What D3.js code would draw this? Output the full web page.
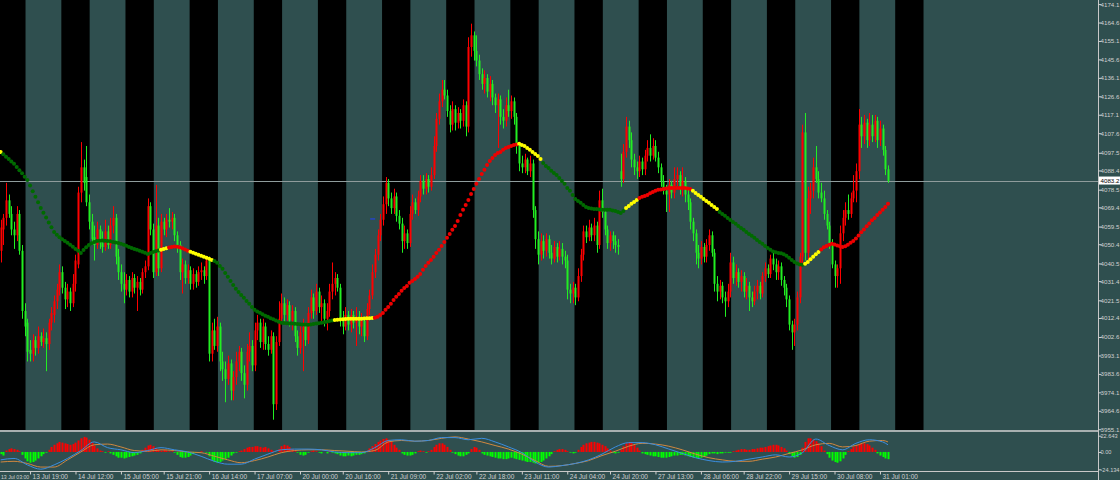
<!DOCTYPE html>
<html><head><meta charset="utf-8">
<script src="https://cdn.jsdelivr.net/npm/d3@7"></script>
<style>html,body{margin:0;padding:0;background:#2f4f4f;overflow:hidden}svg{display:block}</style>
</head><body><svg id="c" width="1120" height="480"></svg>
<script>
// ---------- DATA ----------
// hourly bars; bar index 0 = 13 Jul 03:00 ; first drawn bar index:
const firstBar = 5;
const barOpen = [
4047,4058,4064,4073,4066,4058,4055,4066,4047,4016,
4010,3996,3994,4001,3997,4003,4000,4002,3999,4010,
4014,4021,4027,4036,4028,4022,4026,4020,4030,4040,
4077,4090,4085,4072,4062,4054,4050,4058,4051,4049,
4057,4050,4060,4064,4044,4036,4030,4027,4032,4026,
4033,4028,4031,4027,4036,4039,4070,4058,4036,4060,
4038,4062,4058,4063,4062,4064,4055,4050,4036,4040,
4033,4037,4030,4035,4031,4036,4037,4034,4042,3994,
4006,3998,4008,3990,3986,3981,3989,3975,3982,3990,
3995,3984,3978,3995,3998,3988,4006,4010,4000,4008,
3999,3996,4003,3968,4000,4012,4020,4014,4019,4011,
4016,4003,3997,4005,4008,4001,4015,4023,4016,4026,
4018,4020,4012,4016,4026,4030,4033,4028,4012,4008,
4014,4009,4014,4010,4013,4008,4011,4003,4017,4024,
4036,4045,4055,4063,4071,4082,4074,4069,4075,4065,
4061,4052,4056,4051,4066,4072,4068,4075,4083,4079,
4084,4080,4086,4101,4115,4124,4130,4127,4119,4112,
4120,4113,4118,4114,4122,4111,4152,4158,4150,4145,
4138,4133,4136,4129,4133,4126,4122,4125,4116,4114,
4122,4119,4124,4116,4101,4092,4090,4094,4088,4092,
4068,4053,4045,4052,4047,4053,4046,4043,4049,4044,
4048,4044,4042,4027,4025,4028,4023,4034,4045,4057,
4054,4059,4055,4060,4050,4073,4067,4058,4051,4055,
4052,4050,4088,4084,4098,4111,4104,4094,4090,4088,
4093,4089,4096,4100,4096,4101,4095,4090,4083,4078,
4076,4081,4077,4084,4086,4079,4083,4076,4072,4062,
4056,4046,4043,4049,4044,4050,4055,4046,4030,4026,
4029,4023,4021,4026,4041,4033,4036,4031,4034,4026,
4029,4023,4021,4026,4029,4025,4034,4038,4035,4043,
4040,4036,4039,4032,4028,4022,4009,4005,4009,4023,
4044,4108,4046,4074,4078,4090,4084,4077,4074,4066,
4060,4051,4040,4034,4038,4056,4064,4068,4066,4074,
4078,4088,4112,4106,4113,4104,4112,4106,4114,4104,
4110,4099,4089];
const barHigh = [
4063,4066,4082,4076,4070,4062,4070,4068,4050,4020,
4012,4001,4004,4003,4008,4005,4007,4005,4012,4018,
4024,4030,4040,4039,4031,4030,4028,4035,4045,4080,
4103,4094,4101,4076,4066,4060,4062,4060,4057,4063,
4060,4064,4070,4066,4048,4040,4036,4035,4034,4036,
4035,4034,4033,4038,4042,4074,4072,4061,4081,4064,
4066,4064,4066,4069,4067,4066,4057,4052,4043,4042,
4040,4039,4038,4037,4039,4041,4039,4044,4044,4010,
4012,4013,4010,3995,3990,3993,3991,3985,3995,3998,
3997,3988,3999,4005,4001,4010,4014,4012,4012,4010,
4003,4006,4005,4003,4021,4025,4023,4022,4021,4019,
4018,4006,4008,4012,4010,4018,4027,4025,4030,4028,
4024,4022,4020,4030,4041,4036,4035,4030,4016,4018,
4016,4017,4016,4018,4016,4015,4013,4020,4027,4040,
4048,4058,4066,4075,4085,4084,4077,4079,4077,4068,
4064,4060,4058,4070,4076,4074,4078,4086,4086,4087,
4086,4090,4106,4118,4128,4135,4135,4130,4122,4124,
4122,4121,4120,4125,4124,4157,4164,4160,4158,4148,
4141,4140,4138,4137,4135,4128,4128,4127,4120,4126,
4130,4127,4126,4118,4103,4096,4097,4095,4096,4094,
4070,4057,4056,4055,4056,4055,4050,4052,4051,4052,
4051,4047,4045,4030,4031,4030,4038,4048,4060,4060,
4063,4061,4064,4062,4078,4079,4069,4060,4057,4057,
4055,4053,4097,4102,4116,4114,4108,4097,4093,4096,
4095,4099,4104,4107,4105,4104,4098,4092,4086,4081,
4084,4083,4090,4090,4088,4090,4085,4079,4074,4064,
4058,4050,4052,4051,4053,4058,4057,4048,4034,4032,
4031,4026,4030,4046,4044,4040,4038,4037,4036,4033,
4031,4026,4029,4032,4031,4036,4041,4040,4045,4046,
4043,4042,4041,4034,4030,4024,4011,4012,4026,4046,
4112,4118,4080,4082,4095,4101,4088,4082,4078,4068,
4062,4053,4042,4040,4060,4068,4072,4076,4077,4086,
4092,4120,4116,4117,4115,4118,4117,4117,4116,4114,
4112,4101,4091];
const barLow = [
4041,4050,4060,4064,4055,4048,4052,4045,4012,4003,
3990,3990,3990,3993,3994,3998,3997,3985,3996,4006,
4010,4017,4024,4025,4017,4018,4016,4018,4026,4038,
4072,4078,4070,4058,4050,4042,4048,4048,4046,4047,
4048,4048,4056,4040,4032,4026,4020,4024,4023,4023,
4025,4016,4024,4025,4033,4037,4055,4033,4034,4034,
4036,4055,4054,4059,4058,4052,4046,4032,4025,4030,
4030,4027,4027,4028,4029,4032,4030,4032,3990,3990,
3996,3995,3985,3980,3969,3978,3970,3970,3978,3985,
3980,3971,3975,3990,3985,3985,4001,3997,3996,3996,
3993,3994,3960,3965,3998,4010,4010,4011,4008,4006,
4000,3993,3994,3985,3998,3999,4012,4012,4014,4015,
4010,4008,4006,4013,4022,4024,4026,4008,4004,4006,
4006,4005,4007,3998,4004,4003,4000,4001,4014,4022,
4033,4042,4052,4060,4066,4070,4066,4066,4062,4058,
4046,4048,4048,4049,4063,4066,4065,4072,4076,4076,
4077,4078,4084,4098,4112,4121,4125,4116,4108,4109,
4109,4110,4110,4111,4106,4108,4147,4145,4142,4135,
4130,4128,4126,4124,4122,4118,4100,4112,4110,4111,
4116,4115,4112,4097,4088,4087,4087,4086,4085,4064,
4048,4040,4042,4043,4044,4043,4040,4041,4041,4042,
4040,4038,4022,4020,4020,4019,4021,4031,4042,4051,
4052,4052,4052,4046,4048,4064,4055,4048,4047,4048,
4046,4045,4080,4082,4095,4100,4090,4086,4084,4085,
4086,4086,4093,4093,4094,4093,4087,4080,4076,4067,
4067,4074,4074,4080,4076,4075,4072,4068,4058,4052,
4040,4038,4040,4041,4041,4047,4044,4026,4021,4022,
4020,4013,4018,4023,4030,4029,4028,4026,4023,4022,
4016,4018,4019,4022,4022,4023,4031,4033,4033,4037,
4032,4032,4029,4024,4018,4006,3996,3998,4006,4020,
4040,4042,4042,4066,4074,4082,4074,4072,4063,4058,
4048,4038,4028,4028,4030,4052,4060,4063,4064,4072,
4072,4084,4100,4102,4100,4101,4103,4103,4100,4101,
4096,4086,4082];
const barClose = [
4059,4064,4073,4066,4058,4055,4066,4047,4016,4008,
3995,3994,4001,3997,4003,4000,4002,3999,4010,4015,
4021,4027,4036,4028,4022,4026,4020,4030,4042,4077,
4090,4082,4072,4062,4053,4050,4058,4051,4049,4057,
4050,4060,4064,4044,4036,4030,4027,4032,4026,4033,
4028,4031,4027,4036,4039,4070,4058,4036,4060,4038,
4062,4058,4063,4062,4064,4055,4050,4036,4040,4033,
4037,4030,4035,4031,4036,4037,4034,4042,3994,4006,
3998,4008,3990,3986,3981,3989,3975,3982,3990,3995,
3984,3978,3995,3998,3988,4006,4010,4000,4008,3999,
3996,4003,3968,4000,4012,4020,4014,4019,4011,4016,
4003,3997,4005,4008,4001,4015,4023,4016,4026,4018,
4020,4012,4016,4026,4030,4033,4028,4012,4008,4014,
4009,4014,4010,4013,4008,4011,4003,4017,4024,4036,
4045,4055,4063,4071,4082,4074,4069,4075,4065,4061,
4052,4056,4051,4066,4072,4068,4075,4083,4079,4084,
4080,4086,4101,4115,4124,4130,4127,4119,4112,4120,
4113,4118,4114,4122,4111,4152,4158,4150,4145,4138,
4133,4136,4129,4133,4126,4122,4125,4116,4114,4122,
4119,4124,4116,4101,4092,4090,4094,4088,4092,4068,
4053,4045,4052,4047,4053,4046,4043,4049,4044,4048,
4044,4042,4027,4025,4028,4023,4034,4045,4057,4054,
4059,4055,4060,4050,4073,4067,4058,4051,4055,4052,
4050,4049,4084,4098,4111,4104,4094,4090,4088,4093,
4089,4096,4100,4096,4101,4095,4090,4083,4078,4076,
4081,4077,4084,4086,4079,4083,4076,4072,4062,4056,
4046,4043,4049,4044,4050,4055,4046,4030,4026,4029,
4023,4021,4026,4041,4033,4036,4031,4034,4026,4029,
4023,4021,4026,4029,4025,4034,4038,4035,4043,4040,
4036,4039,4032,4028,4022,4009,4005,4009,4023,4044,
4108,4046,4074,4078,4090,4084,4077,4074,4066,4060,
4051,4040,4034,4038,4056,4064,4068,4066,4074,4078,
4088,4112,4106,4113,4104,4112,4106,4114,4104,4110,
4099,4089,4083];
// smoothed moving average (one value per bar, from firstBar)
const maValues = [
4097.9,4096.7,4095.5,4094.3,4093.0,4091.8,4090.2,4088.5,4086.9,4085.2,
4083.5,4080.6,4077.7,4074.9,4072.0,4069.1,4066.6,4064.1,4061.6,4059.1,
4056.7,4055.3,4054.0,4052.9,4052.0,4051.1,4050.1,4049.1,4048.0,4047.0,
4045.9,4047.4,4048.9,4050.0,4050.9,4051.6,4052.0,4052.2,4052.3,4052.2,
4052.1,4051.9,4051.6,4051.3,4051.0,4050.6,4050.1,4049.6,4049.0,4048.5,
4048.0,4047.5,4047.0,4046.5,4046.0,4045.4,4045.9,4046.4,4046.8,4047.2,
4047.5,4047.9,4048.3,4048.7,4049.0,4049.2,4049.1,4048.8,4048.3,4047.7,
4047.0,4046.5,4046.0,4045.5,4045.0,4044.4,4043.9,4043.4,4042.9,4042.3,
4041.8,4040.8,4039.2,4037.7,4035.6,4033.6,4031.5,4029.4,4027.4,4025.8,
4024.3,4022.8,4021.2,4019.7,4018.1,4016.6,4015.8,4015.1,4014.3,4013.6,
4013.0,4012.3,4011.7,4011.1,4010.5,4009.9,4009.8,4009.7,4009.6,4009.5,
4009.4,4009.3,4009.2,4009.1,4009.0,4008.9,4009.1,4009.3,4009.5,4009.7,
4009.9,4010.2,4010.5,4010.8,4011.1,4011.4,4011.5,4011.6,4011.8,4011.9,
4012.0,4012.0,4012.0,4012.0,4012.0,4012.0,4012.1,4012.2,4012.3,4012.4,
4012.5,4013.0,4014.0,4015.0,4016.6,4018.1,4019.7,4021.7,4023.3,4024.8,
4026.4,4027.9,4028.9,4030.5,4031.5,4032.5,4033.6,4035.1,4037.2,4039.2,
4040.8,4042.3,4043.9,4045.9,4047.5,4049.5,4051.6,4053.7,4055.7,4057.8,
4059.8,4062.4,4065.5,4068.1,4070.6,4073.2,4076.3,4078.9,4081.5,4084.0,
4086.6,4088.7,4091.2,4093.3,4094.8,4096.4,4097.4,4097.9,4099.0,4100.0,
4100.5,4101.0,4101.5,4101.8,4102.1,4101.5,4101.0,4100.0,4099.0,4097.9,
4096.9,4095.9,4094.3,4092.3,4090.7,4089.7,4088.2,4087.1,4086.1,4084.5,
4083.0,4081.5,4079.4,4077.9,4075.8,4073.7,4072.7,4071.7,4070.6,4069.6,
4069.1,4068.8,4068.6,4068.6,4068.3,4068.1,4068.1,4068.1,4068.1,4067.8,
4067.5,4067.0,4066.5,4067.5,4069.1,4070.1,4071.2,4072.2,4073.2,4074.2,
4074.8,4075.3,4075.8,4076.6,4077.3,4077.9,4078.4,4078.6,4078.9,4079.1,
4079.4,4079.4,4079.4,4079.4,4079.4,4079.4,4079.4,4079.1,4078.9,4077.9,
4076.8,4075.8,4074.8,4073.7,4072.7,4071.7,4070.6,4069.6,4068.6,4067.0,
4066.0,4065.0,4063.9,4062.9,4061.9,4060.9,4059.8,4058.8,4057.8,4056.7,
4055.7,4054.7,4053.7,4052.6,4051.6,4050.6,4049.5,4048.5,4047.5,4046.7,
4046.2,4045.9,4045.7,4045.2,4044.4,4043.4,4042.3,4041.3,4040.5,4040.0,
4039.8,4040.3,4041.3,4042.6,4043.9,4045.2,4046.4,4047.7,4048.8,4049.5,
4050.1,4050.6,4050.3,4049.8,4049.3,4049.0,4049.3,4050.1,4051.1,4052.1,
4053.4,4054.9,4056.5,4058.0,4059.6,4061.1,4062.7,4063.9,4065.5,4066.8,
4068.1,4069.6,4071.2];
// MA colour state: from bar index -> state
const maStateFrom = [5,6,65,68,76,85,130,145,199,208,239,244,264,274,306,312];
const maState = ['flat','down','flat','up','flat','down','flat','up','flat','down','flat','up','flat','down','flat','up'];
// MACD-style oscillator histogram (one value per bar, from firstBar)
const oscHist = [
-3,-5,2,4,5,4,3,1,-4,-9,
-13,-15,-14,-12,-9,-6,-3,-1,3,7,
10,12,14,13,12,11,10,11,13,16,
19,21,20,17,13,9,5,2,1,-1,
1,-2,-4,-6,-8,-8,-9,-8,-7,-6,
-5,-4,-2,3,6,9,10,8,5,3,
2,3,2,1,1,-1,-4,-7,-8,-8,
-7,-5,-3,-1,0,1,0,-1,-6,-11,
-14,-15,-14,-12,-10,-8,-5,-2,-1,1,
2,4,6,7,7,8,8,7,6,7,
5,3,1,0,4,8,10,9,7,4,
1,-1,-4,-5,-4,-1,1,2,1,-1,
-2,0,-2,1,-1,-2,-3,-5,-6,-6,
-5,-6,-5,-4,-4,-3,-2,2,5,8,
11,14,16,18,19,17,14,10,6,3,
-2,-4,-5,-5,-4,-2,1,2,1,-1,
1,3,7,10,12,12,10,7,3,-1,
-3,-5,-6,-6,-4,-2,4,7,6,3,
-2,-4,-5,-6,-7,-8,-9,-9,-10,-10,
-9,-8,-9,-10,-11,-12,-13,-14,-14,-15,
-16,-15,-14,-12,-9,-6,-3,1,3,4,
4,3,1,-1,-2,-1,3,7,10,12,
13,14,14,13,12,10,8,5,2,-1,
-2,-1,3,8,12,14,13,10,6,2,
-2,-3,-4,-5,-6,-6,-7,-8,-8,-8,
-7,-6,-5,-5,-4,-4,-5,-6,-7,-8,
-8,-9,-8,-7,-5,-3,-2,-2,-3,-2,
-2,-1,-1,-1,1,2,3,4,4,3,
3,4,4,5,6,6,7,8,9,10,
10,9,7,5,2,-3,-6,-8,-7,-4,
6,14,19,19,17,15,12,8,2,-3,
-8,-12,-14,-15,-13,-9,-4,1,4,7,
9,11,12,12,11,9,6,3,-2,-5,
-7,-9,-10];
// oscillator lines, read at these bars
const oscBars = [5,10,15,20,25,30,35,40,45,50,55,60,65,70,75,80,85,90,95,100,105,110,115,120,125,130,135,140,145,150,155,160,165,170,175,180,185,190,195,200,205,210,215,220,225,230,235,240,245,250,255,260,265,270,275,280,285,290,295,300,305,310,315,320,325,330,335,337];
const oscFast = [-11,-9,-18,-24,-18,-9,2,14,6,3,-1,2,6,3,0,-6,-13,-17,-17,-10,-3,3,4,4,3,0,-1,-1,6,16,17,15,16,20,20,17,19,14,7,-1,-14,-21,-19,-16,-11,-3,7,13,13,10,4,-2,-8,-12,-14,-13,-10,-7,-4,-7,-1,18,9,3,12,17,14,10];
const oscSlow = [-14,-13,-16,-21,-21,-11,0,10,11,7,2,1,3,2,0,-1,-6,-11,-15,-12,-7,-1,2,3,3,2,1,0,2,14,16,15,16,19,21,18,14,9,4,-3,-12,-20,-19,-16,-12,-5,1,8,12,11,8,3,-3,-8,-11,-13,-13,-10,-7,-2,3,10,12,7,9,15,16,14];
// session shading: day start bar (00:00) and shaded hours
const dayStartBar = [-3,21,45,69,93,117,141,165,189,213,237,261,285,309,333];
const sessionHours = [7,17];
// axis labels
const timeLabels = ['13 Jul 03:00','13 Jul 19:00','14 Jul 12:00','15 Jul 05:00','15 Jul 21:00','16 Jul 14:00','17 Jul 07:00','20 Jul 00:00','20 Jul 16:00','21 Jul 09:00','22 Jul 02:00','22 Jul 18:00','23 Jul 11:00','24 Jul 04:00','24 Jul 20:00','27 Jul 13:00','28 Jul 06:00','28 Jul 22:00','29 Jul 15:00','30 Jul 08:00','31 Jul 01:00'];
const timeBars = [0,16,33,50,66,83,100,117,133,150,167,183,200,217,233,250,267,283,300,317,334];
const priceLabels = ['4174.1','4164.6','4155.1','4145.6','4136.1','4126.6','4117.1','4107.6','4097.5','4088.4','4078.5','4069.4','4059.5','4050.4','4040.5','4031.4','4021.5','4012.4','4002.6','3993.1','3983.6','3974.1','3964.6','3955.1'];
const oscLabels = ['22.643','0.00','-24.134'];
const oscLabelValues = [22.643, 0, -24.134];
const lastPrice = 4083.2;
const markerBar = 144, markerPrice = 4063.4;

// ---------- DRAW ----------
const W = 1120, H = 480, axisX = 1098;
const mainBottom = 430, oscBottom = 471.5;
const FONT = '"Liberation Sans", Arial, sans-serif';
const svg = d3.select('#c').attr('font-family', FONT);
const x = d3.scaleLinear().domain([0, 340]).range([-12.7, 896]);
const y = d3.scaleLinear().domain([3954.7, 4176.2]).range([mainBottom, 0]);
const yO = d3.scaleLinear().domain([-24.134, 22.643]).range([469.3, 435.7]);
const bw = x(1) - x(0);

svg.append('rect').attr('width', W).attr('height', H).attr('fill', '#2f4f4f');

// sessions (black bands)
svg.append('g').selectAll('rect').data(dayStartBar).join('rect')
  .attr('x', d => x(d + sessionHours[0]) - 0.3 * bw)
  .attr('width', d => x(d + sessionHours[1]) - x(d + sessionHours[0]) + 0.6 * bw)
  .attr('y', 0).attr('height', mainBottom).attr('fill', '#000');

// last price line
const lpY = Math.round(y(lastPrice)) + 0.5;
svg.append('line').attr('x1', 0).attr('x2', axisX).attr('y1', lpY).attr('y2', lpY)
  .attr('stroke', '#8f9c9c').attr('stroke-width', 1);

// candles
const bars = barOpen.map((o, k) => ({ i: firstBar + k, o, h: barHigh[k], l: barLow[k], c: barClose[k] }));
const col = b => b.c >= b.o ? '#ff0000' : '#22ee22';
const gC = svg.append('g');
gC.selectAll('line').data(bars).join('line')
  .attr('x1', b => Math.round(x(b.i)) + 0.5).attr('x2', b => Math.round(x(b.i)) + 0.5)
  .attr('y1', b => y(b.h)).attr('y2', b => y(b.l)).attr('stroke', col).attr('stroke-width', 1);
gC.selectAll('rect').data(bars).join('rect')
  .attr('x', b => Math.round(x(b.i)) - 0.5).attr('width', 2)
  .attr('y', b => y(Math.max(b.o, b.c)))
  .attr('height', b => Math.max(1, y(Math.min(b.o, b.c)) - y(Math.max(b.o, b.c))))
  .attr('fill', col);

// marker object
svg.append('line').attr('x1', x(markerBar) - 2).attr('x2', x(markerBar) + 3)
  .attr('y1', y(markerPrice)).attr('y2', y(markerPrice)).attr('stroke', '#2040ff').attr('stroke-width', 1);

// MA dots
const stateAt = i => { let s = maState[0]; maStateFrom.forEach((f, k) => { if (i >= f) s = maState[k]; }); return s; };
const maColor = { up: '#ee0000', down: '#006a00', flat: '#ffff00' };
const maPts = maValues.map((v, k) => ({ i: firstBar + k, v, s: stateAt(firstBar + k) }));
svg.append('g').selectAll('circle').data(maPts).join('circle')
  .attr('cx', d => x(d.i)).attr('cy', d => y(d.v)).attr('r', 2)
  .attr('fill', d => maColor[d.s]);

// panel separator & borders
svg.append('rect').attr('x', 0).attr('y', mainBottom).attr('width', axisX).attr('height', 2).attr('fill', '#a8b0b0');
svg.append('line').attr('x1', 0).attr('x2', axisX).attr('y1', oscBottom).attr('y2', oscBottom).attr('stroke', '#c8c8c8');
svg.append('line').attr('x1', axisX + 0.5).attr('x2', axisX + 0.5).attr('y1', 0).attr('y2', H).attr('stroke', '#c8c8c8');

// oscillator histogram
const hist = oscHist.map((v, k) => ({ i: firstBar + k, v }));
svg.append('g').selectAll('rect').data(hist.filter(d => d.v !== 0)).join('rect')
  .attr('x', d => Math.round(x(d.i)) - 0.5).attr('width', 2)
  .attr('y', d => Math.min(yO(0), yO(d.v))).attr('height', d => Math.abs(yO(d.v) - yO(0)))
  .attr('fill', d => d.v > 0 ? '#ff0000' : '#00ff00');
const oscLine = vals => d3.line().x((d, k) => x(oscBars[k])).y(d => yO(d)).curve(d3.curveMonotoneX)(vals);
svg.append('path').attr('d', oscLine(oscSlow)).attr('fill', 'none').attr('stroke', '#d08840').attr('stroke-width', 1);
svg.append('path').attr('d', oscLine(oscFast)).attr('fill', 'none').attr('stroke', '#3a8ee0').attr('stroke-width', 1);

// right price axis
const txt = '#d0d0d0';
const yAxis = d3.axisRight(y).tickValues(priceLabels.map(Number)).tickFormat((d, k) => priceLabels[k]).tickSize(3).tickPadding(1);
const gy = svg.append('g').attr('transform', `translate(${axisX + 0.5},0)`).call(yAxis)
  .attr('font-family', FONT).attr('font-size', 6.2);
gy.select('.domain').remove();
gy.selectAll('.tick line').attr('stroke', txt);
gy.selectAll('.tick text').attr('fill', txt).attr('x', 2);

const oAxis = d3.axisRight(yO).tickValues(oscLabelValues).tickFormat((d, k) => oscLabels[k]).tickSize(3).tickPadding(1);
const go = svg.append('g').attr('transform', `translate(${axisX + 0.5},0)`).call(oAxis)
  .attr('font-family', FONT).attr('font-size', 5.6);
go.select('.domain').remove();
go.selectAll('.tick line').attr('stroke', txt);
go.selectAll('.tick text').attr('fill', txt).attr('x', 2);

// last price tag
const ly = y(lastPrice);
svg.append('rect').attr('x', axisX + 1).attr('y', ly - 4).attr('width', W - axisX - 1).attr('height', 8).attr('fill', '#ffffff');
svg.append('text').attr('x', axisX + 2.5).attr('y', ly + 2.3).attr('fill', '#000')
  .attr('font-family', FONT).attr('font-size', 6.2).text(lastPrice.toFixed(1));

// bottom time axis
const xAxis = d3.axisBottom(x).tickValues(timeBars).tickFormat((d, k) => timeLabels[k]).tickSize(3);
const gx = svg.append('g').attr('transform', `translate(0,${oscBottom})`).call(xAxis)
  .attr('font-family', FONT).attr('font-size', 6.5);
gx.select('.domain').remove();
gx.selectAll('.tick line').attr('stroke', txt);
gx.selectAll('.tick text').attr('fill', txt)
  .attr('text-anchor', 'start').attr('y', 7.5).attr('dy', null).attr('x', 2);
// first label starts left of the plot: pull it inside and shrink it so it fits before the next tick
gx.selectAll('.tick text').filter(d => x(d) + 2 < 0)
  .attr('x', d => 0.5 - x(d)).attr('font-size', 5.2);
</script>
</body></html>
